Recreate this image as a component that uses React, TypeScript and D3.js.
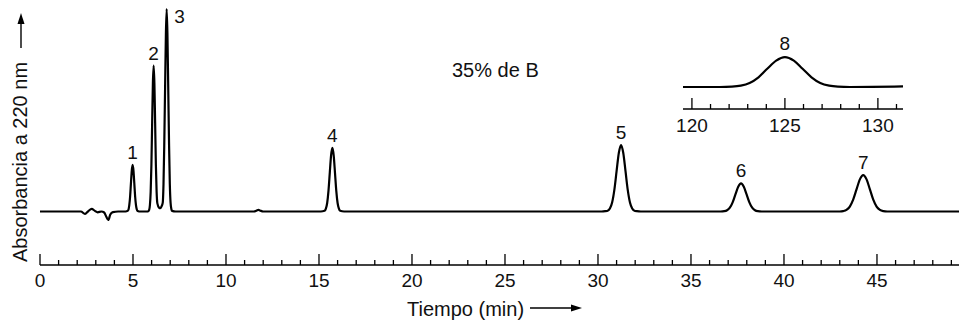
import React from "react";
import * as d3 from "d3";

// Main chromatogram: [time (min), absorbance (arbitrary units)]
const chromatogram: [number, number][] = [
  [0, 0], [2.2, 0], [2.42, -1.2], [2.6, 0.2], [2.78, 1.3], [2.95, 0.3], [3.1, -0.4],
  [3.3, 0], [3.45, -0.5], [3.56, -2.5], [3.67, -4.2], [3.78, -1.5], [3.92, -0.3],
  [4.2, 0], [4.6, 0],
  // peak 1
  [4.71, 0.3], [4.76, 1.0], [4.8, 3.1], [4.845, 7.4], [4.89, 14.0], [4.935, 20.2], [4.98, 23],
  [5.025, 20.2], [5.07, 14.0], [5.115, 7.4], [5.16, 3.1], [5.205, 1.0], [5.25, 0.3], [5.4, 0],
  [5.8, 0],
  // peak 2
  [5.87, 0.8], [5.91, 3.2], [5.95, 9.7], [5.99, 23.1], [6.03, 43.9], [6.07, 63.4], [6.11, 72],
  [6.15, 63.4], [6.19, 43.9], [6.23, 23.1], [6.27, 9.7], [6.31, 4.0], [6.4, 1.9], [6.47, 1.6],
  [6.53, 2.4],
  // peak 3
  [6.6, 4.4], [6.64, 13.5], [6.68, 32.5], [6.725, 60.7], [6.77, 88.2], [6.81, 100],
  [6.85, 88.2], [6.895, 60.7], [6.94, 32.5], [6.98, 13.5], [7.02, 4.4], [7.065, 1.1], [7.1, 0.3],
  [7.3, 0],
  [11.5, 0], [11.65, 0.5], [11.74, 0.8], [11.83, 0.5], [12.0, 0],
  // peak 4
  [15.1, 0], [15.3, 0.35], [15.37, 1.4], [15.44, 4.2], [15.51, 10.2], [15.58, 19.1], [15.65, 27.7],
  [15.72, 31.4], [15.79, 27.7], [15.86, 19.1], [15.93, 10.2], [16.0, 4.2], [16.07, 1.4],
  [16.14, 0.35], [16.35, 0],
  // peak 5
  [30.2, 0], [30.39, 0.15], [30.52, 0.36], [30.64, 1.44], [30.76, 4.43], [30.88, 10.7], [31.0, 19.9],
  [31.12, 28.9], [31.24, 32.8], [31.36, 28.9], [31.48, 19.9], [31.6, 10.7], [31.72, 4.43],
  [31.84, 1.44], [31.96, 0.36], [32.09, 0.15], [32.3, 0],
  // peak 6
  [36.6, 0], [36.79, 0.15], [36.94, 0.61], [37.09, 1.88], [37.24, 4.52], [37.39, 8.44], [37.54, 12.26],
  [37.69, 13.9], [37.84, 12.26], [37.99, 8.44], [38.14, 4.52], [38.29, 1.88], [38.44, 0.61],
  [38.59, 0.15], [38.8, 0],
  // peak 7
  [43.0, 0], [43.18, 0.2], [43.36, 0.79], [43.54, 2.43], [43.72, 5.85], [43.9, 10.93], [44.08, 15.88],
  [44.26, 18], [44.44, 15.88], [44.62, 10.93], [44.8, 5.85], [44.98, 2.43], [45.16, 0.79],
  [45.34, 0.2], [45.55, 0],
  [49.41, 0],
];

// Inset (peak 8): [time (min), absorbance]
const insetCurve: [number, number][] = [
  [119.52, 0], [121.5, 0], [122.15, 0.16], [122.63, 0.65], [123.1, 2.0], [123.58, 4.8],
  [124.05, 9.0], [124.53, 13.05], [125, 14.8], [125.48, 13.05], [125.95, 9.0], [126.43, 4.8],
  [126.9, 2.0], [127.38, 0.65], [127.85, 0.16], [128.5, 0], [131.35, 0.3],
];

const peakLabels = ["1", "2", "3", "4", "5", "6", "7"];
const peakTimes = [4.98, 6.11, 6.81, 15.72, 31.24, 37.69, 44.26];
const peakHeights = [23, 72, 100, 31.4, 32.8, 13.9, 18];

const insetLabel = "8";
const insetPeakTime = 125;
const insetPeakHeight = 14.8;

const mainTickValues = d3.range(0, 50, 1);
const mainLabelValues = [0, 5, 10, 15, 20, 25, 30, 35, 40, 45];
const insetTickValues = d3.range(120, 132, 1);
const insetLabelValues = [120, 125, 130];

const annotation = "35% de B";
const xTitle = "Tiempo (min)";
const yTitle = "Absorbancia a 220 nm";

const FONT = "'Liberation Sans', Arial, Helvetica, sans-serif";

export default function App() {
  const W = 959;
  const H = 321;

  const x = d3.scaleLinear().domain([0, 49.41]).range([40, 959]);
  const y = d3.scaleLinear().domain([0, 100]).range([211.5, 9]);
  const xi = d3.scaleLinear().domain([119.52, 131.35]).range([683, 903]);
  const yi = d3.scaleLinear().domain([0, 100]).range([87, 87 - 202.5]);

  const line = d3
    .line<[number, number]>()
    .x((d) => x(d[0]))
    .y((d) => y(d[1]))
    .curve(d3.curveMonotoneX);
  const lineInset = d3
    .line<[number, number]>()
    .x((d) => xi(d[0]))
    .y((d) => yi(d[1]))
    .curve(d3.curveMonotoneX);

  const axisY = 265;
  const insetAxisY = 109;

  return (
    <svg
      width={W}
      height={H}
      style={{ position: "absolute", left: 0, top: 0, background: "#fff" }}
      fontFamily={FONT}
    >
      <rect x={0} y={0} width={W} height={H} fill="#fff" />
      {/* main curve */}
      <path d={line(chromatogram) || ""} fill="none" stroke="#000" strokeWidth={2.2} strokeLinejoin="round" />

      {/* peak labels */}
      {peakLabels.map((lab, i) => {
        const isThird = i === 2;
        const px = x(peakTimes[i]) + (isThird ? 13 : 0);
        const py = y(peakHeights[i]) - (isThird ? -14 : 6);
        return (
          <text key={lab} x={px} y={py} textAnchor="middle" fontSize={19} fill="#111">
            {lab}
          </text>
        );
      })}

      {/* main axis */}
      <line x1={x(0)} x2={W} y1={axisY} y2={axisY} stroke="#000" strokeWidth={1.6} />
      {mainTickValues.map((t) => {
        const major = t % 5 === 0;
        return (
          <line
            key={t}
            x1={x(t)}
            x2={x(t)}
            y1={axisY}
            y2={axisY - (major ? 11 : 5)}
            stroke="#000"
            strokeWidth={1.3}
          />
        );
      })}
      {mainLabelValues.map((t) => (
        <text key={t} x={x(t)} y={287} textAnchor="middle" fontSize={19} fill="#111">
          {t}
        </text>
      ))}

      {/* x title with arrow */}
      <text x={407} y={316} fontSize={20} fill="#111">
        {xTitle}
      </text>
      <line x1={530} x2={574} y1={308} y2={308} stroke="#000" strokeWidth={1.4} />
      <path d="M582,308 L571,304.5 L571,311.5 Z" fill="#000" />

      {/* y title with arrow */}
      <text
        transform={`translate(27,162) rotate(-90)`}
        textAnchor="middle"
        fontSize={20}
        fill="#111"
      >
        {yTitle}
      </text>
      <line x1={21} x2={21} y1={48} y2={22} stroke="#000" strokeWidth={1.4} />
      <path d="M21,13 L17.5,24 L24.5,24 Z" fill="#000" />

      {/* annotation */}
      <text x={452} y={77} fontSize={20} fill="#111">
        {annotation}
      </text>

      {/* inset */}
      <path d={lineInset(insetCurve) || ""} fill="none" stroke="#000" strokeWidth={2.2} />
      <text
        x={xi(insetPeakTime)}
        y={yi(insetPeakHeight) - 7}
        textAnchor="middle"
        fontSize={19}
        fill="#111"
      >
        {insetLabel}
      </text>
      <line x1={683} x2={903} y1={insetAxisY} y2={insetAxisY} stroke="#000" strokeWidth={1.6} />
      {insetTickValues.map((t) => {
        const major = t % 5 === 0;
        return (
          <line
            key={t}
            x1={xi(t)}
            x2={xi(t)}
            y1={insetAxisY}
            y2={insetAxisY - (major ? 11 : 5)}
            stroke="#000"
            strokeWidth={1.3}
          />
        );
      })}
      {insetLabelValues.map((t) => (
        <text key={t} x={xi(t)} y={132} textAnchor="middle" fontSize={19} fill="#111">
          {t}
        </text>
      ))}
    </svg>
  );
}
